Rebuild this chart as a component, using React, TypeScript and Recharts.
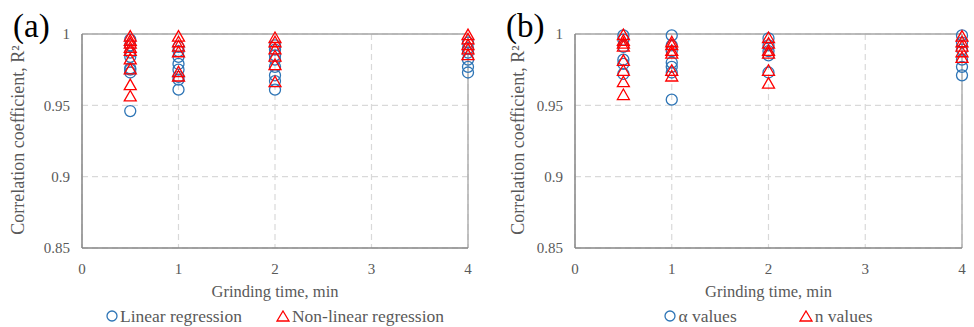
import React from "react";
import { ScatterChart, Scatter, XAxis, YAxis, CartesianGrid, ReferenceLine, Legend } from "recharts";

const BLUE = "#2E75B6";
const RED = "#FF0000";
const GRAY_TEXT = "#595959";
const FONT = '"Liberation Serif", "DejaVu Serif", serif';

// grinding times where points were measured
const TIMES = [0.5, 1, 2, 4];
const X_TICKS = [0, 1, 2, 3, 4];
const Y_TICKS = [0.85, 0.9, 0.95, 1];

// (a) R² of linear / non-linear regression, one list per grinding time
const linearA = [
  [0.996, 0.992, 0.987, 0.984, 0.976, 0.975, 0.973, 0.946],
  [0.991, 0.988, 0.984, 0.979, 0.975, 0.97, 0.968, 0.961],
  [0.992, 0.989, 0.985, 0.982, 0.977, 0.971, 0.967, 0.961],
  [0.994, 0.99, 0.987, 0.982, 0.977, 0.973],
];
const nonLinearA = [
  [0.998, 0.995, 0.993, 0.99, 0.988, 0.982, 0.975, 0.964, 0.956],
  [0.998, 0.994, 0.991, 0.987, 0.973, 0.97],
  [0.997, 0.994, 0.989, 0.984, 0.978, 0.966],
  [0.999, 0.996, 0.992, 0.989, 0.985],
];

// (b) R² of alpha / n values
const alphaB = [
  [0.999, 0.996, 0.991, 0.982, 0.979, 0.972],
  [0.999, 0.992, 0.988, 0.98, 0.977, 0.973, 0.954],
  [0.997, 0.992, 0.988, 0.985, 0.973],
  [0.999, 0.994, 0.989, 0.982, 0.977, 0.971],
];
const nB = [
  [0.999, 0.995, 0.993, 0.991, 0.981, 0.974, 0.966, 0.957],
  [0.994, 0.992, 0.988, 0.986, 0.974, 0.97],
  [0.997, 0.993, 0.988, 0.986, 0.974, 0.965],
  [0.998, 0.994, 0.991, 0.987, 0.983],
];

const toPoints = (groups: number[][]) =>
  groups.flatMap((vals, i) => vals.map((r2) => ({ t: TIMES[i], r2 })));

const CircleMark = (props: any) => (
  <circle cx={props.cx} cy={props.cy} r={5.5} fill="none" stroke={BLUE} strokeWidth={1.3} />
);

const TriangleMark = (props: any) => {
  const { cx, cy } = props;
  const w = 12;
  const h = 10.5;
  return (
    <path
      d={`M${cx},${cy - h * 0.6} L${cx + w / 2},${cy + h * 0.4} L${cx - w / 2},${cy + h * 0.4} Z`}
      fill="none"
      stroke={RED}
      strokeWidth={1.3}
    />
  );
};

function LegendBox({ first, second, gap }: { first: string; second: string; gap: number }) {
  return (
    <div style={{ display: "flex", justifyContent: "center", gap, fontFamily: FONT, fontSize: 17.5, color: GRAY_TEXT, lineHeight: "22px" }}>
      <div style={{ display: "flex", alignItems: "center" }}>
        <svg width={12} height={12} style={{ marginRight: 2 }}>
          <circle cx={6} cy={6} r={5} fill="none" stroke={BLUE} strokeWidth={1.3} />
        </svg>
        <span>{first}</span>
      </div>
      <div style={{ display: "flex", alignItems: "center" }}>
        <svg width={14} height={12} style={{ marginRight: 2 }}>
          <path d="M7,1 L13,11 L1,11 Z" fill="none" stroke={RED} strokeWidth={1.3} />
        </svg>
        <span>{second}</span>
      </div>
    </div>
  );
}

interface PanelProps {
  tag: string;
  circles: number[][];
  triangles: number[][];
  circleName: string;
  triangleName: string;
  marginLeft: number;
  marginRight: number;
  labelShift: number;
  legendGap: number;
}

function Panel({ tag, circles, triangles, circleName, triangleName, marginLeft, marginRight, labelShift, legendGap }: PanelProps) {
  const plotLeft = marginLeft + 70;
  const plotWidth = 487 - plotLeft - marginRight;
  return (
    <div style={{ position: "relative", width: 487, height: 327 }}>
      <div style={{ position: "absolute", left: marginLeft + 1, top: 6, fontFamily: FONT, fontSize: 33, lineHeight: "40px", color: "#000" }}>
        {tag}
      </div>
      <ScatterChart width={487} height={327} margin={{ top: 34, right: marginRight, bottom: 0, left: marginLeft }}>
        <CartesianGrid stroke="#D9D9D9" strokeDasharray="6 4" strokeWidth={1.2} />
        <XAxis
          type="number"
          dataKey="t"
          domain={[0, 4]}
          ticks={X_TICKS}
          height={79}
          tickLine={false}
          tickMargin={9}
          axisLine={{ stroke: "#868686", strokeWidth: 1.5 }}
          tick={{ fill: GRAY_TEXT, fontSize: 15, fontFamily: FONT }}
          label={{ value: "Grinding time, min", position: "insideTop", offset: 37, fill: GRAY_TEXT, fontSize: 16.5, fontFamily: FONT }}
        />
        <YAxis
          type="number"
          dataKey="r2"
          domain={[0.85, 1]}
          ticks={Y_TICKS}
          width={70}
          tickLine={false}
          tickMargin={6}
          axisLine={{ stroke: "#868686", strokeWidth: 1.5 }}
          tick={{ fill: GRAY_TEXT, fontSize: 15, fontFamily: FONT }}
          label={(p: any) => {
            const vb = p.viewBox;
            const x = vb.x + labelShift;
            const y = vb.y + vb.height / 2 - 1;
            return (
              <text
                x={x}
                y={y}
                transform={`rotate(-90, ${x}, ${y})`}
                textAnchor="middle"
                dominantBaseline="central"
                fill={GRAY_TEXT}
                fontSize={18}
                fontFamily={FONT}
              >
                Correlation coefficient, R²
              </text>
            );
          }}
        />
        <ReferenceLine y={1} stroke="#A6A6A6" strokeWidth={1.3} />
        <ReferenceLine x={4} stroke="#A6A6A6" strokeWidth={1.3} />
        <Scatter name={circleName} data={toPoints(circles)} shape={CircleMark} isAnimationActive={false} />
        <Scatter name={triangleName} data={toPoints(triangles)} shape={TriangleMark} isAnimationActive={false} />
        <Legend
          layout="horizontal"
          verticalAlign="middle"
          align="center"
          wrapperStyle={{ position: "absolute", left: plotLeft, top: 305, width: plotWidth }}
          content={() => <LegendBox first={circleName} second={triangleName} gap={legendGap} />}
        />
      </ScatterChart>
    </div>
  );
}

export default function App() {
  return (
    <div style={{ position: "absolute", left: 0, top: 0, width: 974, height: 327, overflow: "hidden", background: "#fff", display: "flex" }}>
      <Panel
        tag="(a)"
        circles={linearA}
        triangles={nonLinearA}
        circleName="Linear regression"
        triangleName="Non-linear regression"
        marginLeft={12}
        marginRight={19}
        labelShift={6}
        legendGap={34}
      />
      <Panel
        tag="(b)"
        circles={alphaB}
        triangles={nB}
        circleName="α values"
        triangleName="n values"
        marginLeft={18}
        marginRight={12}
        labelShift={13}
        legendGap={62}
      />
    </div>
  );
}
